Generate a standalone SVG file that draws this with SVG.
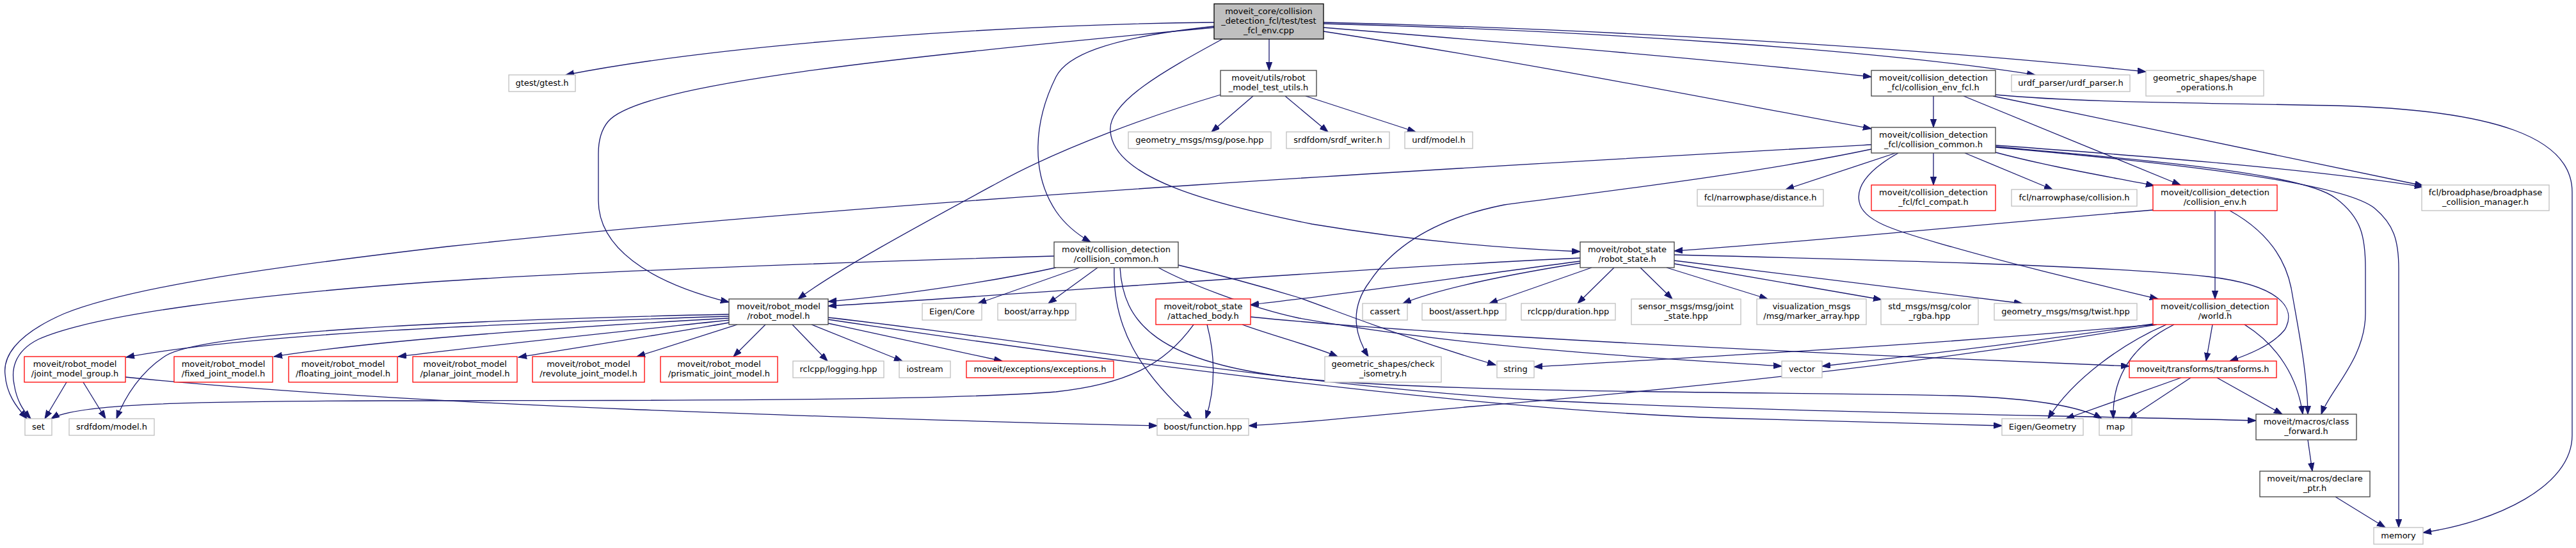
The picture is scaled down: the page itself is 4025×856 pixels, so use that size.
<svg xmlns="http://www.w3.org/2000/svg" width="4025" height="856" viewBox="0 0 4025 856">
<defs>
<style>
.n rect{fill:#fff;stroke-width:1.3}
.doc rect{stroke:#404040}
.ext rect{stroke:#bfbfbf}
.tr rect{stroke:#ff0000}
.main rect{fill:#bfbfbf;stroke:#000}
.n text{font-family:"DejaVu Sans",sans-serif;font-size:13px;text-anchor:middle;fill:#000}
#edges path{fill:none;stroke:#191970;stroke-width:1.3;marker-end:url(#arr)}
</style>
<marker id="arr" markerUnits="userSpaceOnUse" markerWidth="14" markerHeight="10" refX="13" refY="4.7" orient="auto">
<path d="M0,0 L13,4.7 L0,9.4 Z" fill="#191970" stroke="#191970" stroke-width="1"/>
</marker>
</defs>
<rect width="4025" height="856" fill="#fff"/>
<g id="edges">
<path d="M1897,35 C1600,38 1150,65 884,117"/>
<path d="M1897,43 C1400,90 1000,130 950,190 Q935,208 935,240 L935,313 C935,385 1010,440 1139,472"/>
<path d="M1897,41 C1720,60 1665,90 1650,120 C1615,190 1610,270 1650,330 C1665,352 1683,366 1704,378"/>
<path d="M1910,61 C1820,110 1730,160 1735,205 C1740,280 1900,320 2050,350 C2200,375 2350,388 2469,393"/>
<path d="M1983,61 L1983,110"/>
<path d="M2068,35 C2500,45 3000,75 3353,112"/>
<path d="M2068,37 C2500,48 2950,80 3180,117"/>
<path d="M2068,43 C2400,70 2700,95 2924,120"/>
<path d="M2068,49 C2400,100 2700,160 2924,201"/>
<path d="M1958,150 L1893,206"/>
<path d="M2008,150 L2075,206"/>
<path d="M2040,150 L2212,206"/>
<path d="M1907,148 C1800,180 1660,230 1560,285 C1440,350 1310,420 1247,467"/>
<path d="M3021,150 L3021,199"/>
<path d="M3068,150 L3407,289"/>
<path d="M3114,150 L3786,290"/>
<path d="M3118,148 C3250,160 3400,160 3650,165 C3900,172 4019,215 4019,300 L4019,680 C4019,760 3900,815 3786,832"/>
<path d="M2962,239 L2790,296"/>
<path d="M3021,239 L3021,289"/>
<path d="M3070,239 L3207,296"/>
<path d="M3118,238 C3200,260 3290,275 3366,290"/>
<path d="M3118,227 C3300,240 3600,262 3786,292"/>
<path d="M3118,229 C3350,250 3600,270 3650,310 C3690,340 3696,370 3696,420 L3696,490 C3696,560 3640,610 3627,647"/>
<path d="M3118,230 C3400,255 3660,285 3710,325 C3740,350 3748,375 3748,420 L3748,824"/>
<path d="M2924,226 C2400,255 1400,310 700,385 C400,420 200,450 100,490 C20,525 5,560 8,585 C10,615 25,635 42,654"/>
<path d="M2924,233 C2750,270 2500,300 2350,320 C2250,340 2180,380 2140,440 C2110,480 2115,520 2138,557"/>
<path d="M2966,239 C2920,265 2900,290 2905,315 C2910,345 2960,360 3030,380 C3150,415 3280,445 3372,467"/>
<path d="M3364,328 C3100,350 2800,380 2616,392"/>
<path d="M3461,329 L3461,467"/>
<path d="M3484,329 C3540,360 3570,400 3580,450 C3592,520 3605,580 3606,647"/>
<path d="M1647,400 C1300,410 900,425 680,440 C400,460 150,490 60,530 C20,550 18,580 22,600 C26,625 35,640 48,654"/>
<path d="M1650,418 C1550,440 1400,462 1294,471"/>
<path d="M1687,418 L1528,474"/>
<path d="M1715,418 L1638,474"/>
<path d="M1741,418 C1738,510 1780,580 1862,654"/>
<path d="M1750,418 C1755,500 1800,570 2050,593 C2300,615 2800,612 3050,618 C3200,622 3260,640 3284,654"/>
<path d="M1841,414 C1900,428 1980,450 2030,465 C2100,490 2200,530 2337,570"/>
<path d="M1810,418 C1850,440 1950,480 2030,497 C2300,545 2600,560 2784,572"/>
<path d="M2469,403 C2100,420 1600,460 1294,478"/>
<path d="M2469,408 C2300,430 2100,460 1954,476"/>
<path d="M2469,411 C2350,430 2250,450 2192,474"/>
<path d="M2487,418 L2327,474"/>
<path d="M2522,418 L2465,474"/>
<path d="M2563,418 L2613,467"/>
<path d="M2604,418 L2762,467"/>
<path d="M2616,412 L2940,468"/>
<path d="M2616,407 L3160,474"/>
<path d="M2616,398 C2900,405 3300,415 3450,432 C3560,445 3590,480 3570,515 C3550,540 3510,555 3484,564"/>
<path d="M1139,494 C800,505 400,520 197,558"/>
<path d="M1139,497 C900,510 600,530 428,557"/>
<path d="M1139,500 C1000,515 800,535 622,557"/>
<path d="M1139,504 C1050,520 920,540 810,558"/>
<path d="M1152,507 L995,557"/>
<path d="M1196,507 L1146,557"/>
<path d="M1238,507 L1293,564"/>
<path d="M1268,507 L1410,564"/>
<path d="M1294,505 L1566,564"/>
<path d="M1139,491 C700,500 320,520 260,555 C220,580 195,620 182,654"/>
<path d="M1294,496 C1600,530 2000,600 2400,625 C2800,645 3200,648 3525,657"/>
<path d="M1294,499 C1700,560 2300,640 2690,653 C2900,660 3050,663 3128,665"/>
<path d="M1865,507 C1820,570 1760,600 1650,612 C1450,628 900,625 600,626 C300,627 120,630 80,654"/>
<path d="M1886,507 C1900,560 1898,610 1884,654"/>
<path d="M1941,507 C1990,525 2050,540 2090,557"/>
<path d="M1954,495 C2200,520 2700,545 3000,558 C3150,564 3250,568 3327,572"/>
<path d="M104,597 L70,654"/>
<path d="M130,597 L165,654"/>
<path d="M196,589 C400,610 700,628 1000,640 C1400,655 1650,662 1808,665"/>
<path d="M3364,506 C3200,530 3000,555 2847,572"/>
<path d="M3366,507 C3000,540 2700,555 2397,573"/>
<path d="M3370,507 C3000,570 2600,610 2300,635 C2150,648 2050,660 1951,665"/>
<path d="M3385,507 C3320,535 3240,590 3200,654"/>
<path d="M3397,507 C3330,540 3300,590 3302,654"/>
<path d="M3457,507 L3447,564"/>
<path d="M3507,507 C3560,540 3590,590 3598,647"/>
<path d="M3464,590 L3566,647"/>
<path d="M3408,590 L3228,654"/>
<path d="M3423,590 L3326,654"/>
<path d="M3606,687 L3613,736"/>
<path d="M3649,776 L3727,824"/>
</g>
<g id="n_main" class="n main"><rect x="1897" y="6" width="171" height="55"/><text x="1982.5" y="22">moveit_core/collision</text><text x="1982.5" y="37">_detection_fcl/test/test</text><text x="1982.5" y="52">_fcl_env.cpp</text></g>
<g id="n_gtest" class="n ext"><rect x="795" y="117" width="104" height="26"/><text x="847" y="134">gtest/gtest.h</text></g>
<g id="n_test_utils" class="n doc"><rect x="1907" y="110" width="150" height="40"/><text x="1982" y="126">moveit/utils/robot</text><text x="1982" y="141">_model_test_utils.h</text></g>
<g id="n_collision_env_fcl" class="n doc"><rect x="2924" y="110" width="194" height="40"/><text x="3021" y="126">moveit/collision_detection</text><text x="3021" y="141">_fcl/collision_env_fcl.h</text></g>
<g id="n_urdf_parser" class="n ext"><rect x="3143" y="117" width="185" height="26"/><text x="3235.5" y="134">urdf_parser/urdf_parser.h</text></g>
<g id="n_shape_operations" class="n ext"><rect x="3353" y="110" width="184" height="40"/><text x="3445" y="126">geometric_shapes/shape</text><text x="3445" y="141">_operations.h</text></g>
<g id="n_pose" class="n ext"><rect x="1763" y="206" width="223" height="26"/><text x="1874.5" y="223">geometry_msgs/msg/pose.hpp</text></g>
<g id="n_srdf_writer" class="n ext"><rect x="2010" y="206" width="161" height="26"/><text x="2090.5" y="223">srdfdom/srdf_writer.h</text></g>
<g id="n_urdf_model" class="n ext"><rect x="2195" y="206" width="106" height="26"/><text x="2248" y="223">urdf/model.h</text></g>
<g id="n_fcl_collision_common" class="n doc"><rect x="2924" y="199" width="194" height="40"/><text x="3021" y="215">moveit/collision_detection</text><text x="3021" y="230">_fcl/collision_common.h</text></g>
<g id="n_distance" class="n ext"><rect x="2652" y="296" width="197" height="26"/><text x="2750.5" y="313">fcl/narrowphase/distance.h</text></g>
<g id="n_fcl_compat" class="n tr"><rect x="2924" y="289" width="194" height="40"/><text x="3021" y="305">moveit/collision_detection</text><text x="3021" y="320">_fcl/fcl_compat.h</text></g>
<g id="n_narrow_collision" class="n ext"><rect x="3143" y="296" width="196" height="26"/><text x="3241" y="313">fcl/narrowphase/collision.h</text></g>
<g id="n_collision_env" class="n tr"><rect x="3364" y="289" width="194" height="40"/><text x="3461" y="305">moveit/collision_detection</text><text x="3461" y="320">/collision_env.h</text></g>
<g id="n_broadphase" class="n ext"><rect x="3784" y="289" width="199" height="40"/><text x="3883.5" y="305">fcl/broadphase/broadphase</text><text x="3883.5" y="320">_collision_manager.h</text></g>
<g id="n_collision_common" class="n doc"><rect x="1647" y="378" width="194" height="40"/><text x="1744" y="394">moveit/collision_detection</text><text x="1744" y="409">/collision_common.h</text></g>
<g id="n_robot_state" class="n doc"><rect x="2469" y="378" width="147" height="40"/><text x="2542.5" y="394">moveit/robot_state</text><text x="2542.5" y="409">/robot_state.h</text></g>
<g id="n_robot_model" class="n doc"><rect x="1139" y="467" width="155" height="40"/><text x="1216.5" y="483">moveit/robot_model</text><text x="1216.5" y="498">/robot_model.h</text></g>
<g id="n_eigen_core" class="n ext"><rect x="1441" y="474" width="93" height="26"/><text x="1487.5" y="491">Eigen/Core</text></g>
<g id="n_boost_array" class="n ext"><rect x="1559" y="474" width="122" height="26"/><text x="1620" y="491">boost/array.hpp</text></g>
<g id="n_attached_body" class="n tr"><rect x="1806" y="467" width="148" height="40"/><text x="1880" y="483">moveit/robot_state</text><text x="1880" y="498">/attached_body.h</text></g>
<g id="n_cassert" class="n ext"><rect x="2129" y="474" width="70" height="26"/><text x="2164" y="491">cassert</text></g>
<g id="n_boost_assert" class="n ext"><rect x="2222" y="474" width="131" height="26"/><text x="2287.5" y="491">boost/assert.hpp</text></g>
<g id="n_duration" class="n ext"><rect x="2377" y="474" width="147" height="26"/><text x="2450.5" y="491">rclcpp/duration.hpp</text></g>
<g id="n_joint_state" class="n ext"><rect x="2549" y="467" width="171" height="40"/><text x="2634.5" y="483">sensor_msgs/msg/joint</text><text x="2634.5" y="498">_state.hpp</text></g>
<g id="n_marker_array" class="n ext"><rect x="2745" y="467" width="171" height="40"/><text x="2830.5" y="483">visualization_msgs</text><text x="2830.5" y="498">/msg/marker_array.hpp</text></g>
<g id="n_color_rgba" class="n ext"><rect x="2939" y="467" width="152" height="40"/><text x="3015" y="483">std_msgs/msg/color</text><text x="3015" y="498">_rgba.hpp</text></g>
<g id="n_twist" class="n ext"><rect x="3116" y="474" width="223" height="26"/><text x="3227.5" y="491">geometry_msgs/msg/twist.hpp</text></g>
<g id="n_world" class="n tr"><rect x="3364" y="467" width="194" height="40"/><text x="3461" y="483">moveit/collision_detection</text><text x="3461" y="498">/world.h</text></g>
<g id="n_jmg" class="n tr"><rect x="38" y="557" width="158" height="40"/><text x="117" y="573">moveit/robot_model</text><text x="117" y="588">/joint_model_group.h</text></g>
<g id="n_fixed" class="n tr"><rect x="272" y="557" width="154" height="40"/><text x="349" y="573">moveit/robot_model</text><text x="349" y="588">/fixed_joint_model.h</text></g>
<g id="n_floating" class="n tr"><rect x="451" y="557" width="170" height="40"/><text x="536" y="573">moveit/robot_model</text><text x="536" y="588">/floating_joint_model.h</text></g>
<g id="n_planar" class="n tr"><rect x="645" y="557" width="163" height="40"/><text x="726.5" y="573">moveit/robot_model</text><text x="726.5" y="588">/planar_joint_model.h</text></g>
<g id="n_revolute" class="n tr"><rect x="832" y="557" width="175" height="40"/><text x="919.5" y="573">moveit/robot_model</text><text x="919.5" y="588">/revolute_joint_model.h</text></g>
<g id="n_prismatic" class="n tr"><rect x="1032" y="557" width="183" height="40"/><text x="1123.5" y="573">moveit/robot_model</text><text x="1123.5" y="588">/prismatic_joint_model.h</text></g>
<g id="n_logging" class="n ext"><rect x="1239" y="564" width="142" height="26"/><text x="1310" y="581">rclcpp/logging.hpp</text></g>
<g id="n_iostream" class="n ext"><rect x="1405" y="564" width="80" height="26"/><text x="1445" y="581">iostream</text></g>
<g id="n_exceptions" class="n tr"><rect x="1510" y="564" width="230" height="26"/><text x="1625" y="581">moveit/exceptions/exceptions.h</text></g>
<g id="n_check_isometry" class="n ext"><rect x="2070" y="557" width="182" height="40"/><text x="2161" y="573">geometric_shapes/check</text><text x="2161" y="588">_isometry.h</text></g>
<g id="n_string" class="n ext"><rect x="2339" y="564" width="58" height="26"/><text x="2368" y="581">string</text></g>
<g id="n_vector" class="n ext"><rect x="2784" y="564" width="63" height="26"/><text x="2815.5" y="581">vector</text></g>
<g id="n_transforms" class="n tr"><rect x="3327" y="564" width="230" height="26"/><text x="3442" y="581">moveit/transforms/transforms.h</text></g>
<g id="n_set" class="n ext"><rect x="39" y="654" width="42" height="26"/><text x="60" y="671">set</text></g>
<g id="n_srdf_model" class="n ext"><rect x="108" y="654" width="133" height="26"/><text x="174.5" y="671">srdfdom/model.h</text></g>
<g id="n_boost_function" class="n ext"><rect x="1808" y="654" width="143" height="26"/><text x="1879.5" y="671">boost/function.hpp</text></g>
<g id="n_eigen_geometry" class="n ext"><rect x="3128" y="654" width="127" height="26"/><text x="3191.5" y="671">Eigen/Geometry</text></g>
<g id="n_map" class="n ext"><rect x="3280" y="654" width="51" height="26"/><text x="3305.5" y="671">map</text></g>
<g id="n_class_forward" class="n doc"><rect x="3525" y="647" width="157" height="40"/><text x="3603.5" y="663">moveit/macros/class</text><text x="3603.5" y="678">_forward.h</text></g>
<g id="n_declare_ptr" class="n doc"><rect x="3531" y="736" width="172" height="40"/><text x="3617" y="752">moveit/macros/declare</text><text x="3617" y="767">_ptr.h</text></g>
<g id="n_memory" class="n ext"><rect x="3709" y="824" width="77" height="26"/><text x="3747.5" y="841">memory</text></g>
</svg>
